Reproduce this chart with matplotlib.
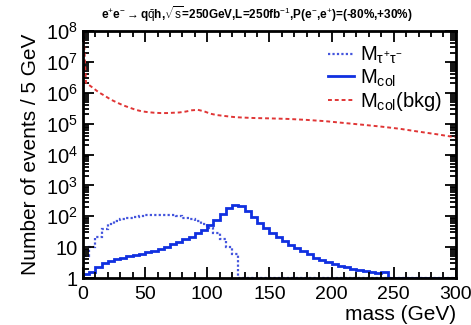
import numpy as np
import matplotlib
matplotlib.use("Agg")
import matplotlib.pyplot as plt
import matplotlib.transforms as mtransforms
from matplotlib.ticker import LogLocator, MultipleLocator, FixedLocator, FixedFormatter, NullFormatter

plt.rcParams['font.family'] = ['Liberation Sans', 'DejaVu Sans']
plt.rcParams['mathtext.fontset'] = 'custom'
plt.rcParams['mathtext.rm'] = 'Liberation Sans'
plt.rcParams['mathtext.it'] = 'Liberation Sans'
plt.rcParams['mathtext.bf'] = 'Liberation Sans:bold'

# 5 GeV bins from 0 to 300
edges = np.arange(0, 305, 5)

m_tautau = [5, 10, 22, 38, 55, 70, 80, 90, 98, 105,
            110, 112, 112, 110, 106, 100, 90, 80, 68, 56,
            42, 28, 18, 10, 6, 1, 1, 1, 1, 1,
            1, 1, 1, 1, 1, 1, 1, 1, 1, 1,
            1, 1, 1, 1, 1, 1, 1, 1, 1, 1,
            1, 1, 1, 1, 1, 1, 1, 1, 1, 1]

m_col = [1.3, 1.6, 2.3, 3.0, 3.5, 4.0, 4.5, 5.0, 5.6, 6.2,
         6.9, 7.7, 8.6, 9.8, 12.5, 15, 18, 22, 28, 37,
         52, 75, 115, 180, 235, 215, 150, 98, 61, 41,
         29, 21, 15.5, 12, 9.4, 7.5, 5.8, 4.5, 3.9, 3.4,
         2.9, 2.5, 2.3, 2.0, 1.8, 1.7, 1.6, 1.5, 1.6, 1,
         1, 1, 1, 1, 1, 1, 1, 1, 1, 1]

bkg_mass = [0.3, 2.5, 7.5, 12.5, 17.5, 22.5, 27.5, 32.5, 37.5, 42.5, 47.5,
            52.5, 57.5, 62.5, 67.5, 72.5, 77.5, 82.5, 87.5, 92.5, 97.5,
            102.5, 107.5, 112.5, 117.5, 122.5, 127.5, 137.5, 150, 165,
            180, 195, 210, 225, 240, 255, 270, 285, 300]
bkg_val = [1.5e8, 2.1e6, 1.5e6, 1.05e6, 8e5, 6e5, 4.8e5, 3.9e5, 3.3e5, 2.8e5, 2.5e5,
           2.35e5, 2.25e5, 2.2e5, 2.2e5, 2.25e5, 2.3e5, 2.45e5, 2.7e5, 2.8e5, 2.5e5,
           2.1e5, 1.9e5, 1.8e5, 1.7e5, 1.62e5, 1.58e5, 1.52e5, 1.48e5, 1.42e5,
           1.32e5, 1.2e5, 1.05e5, 9.2e4, 8e4, 6.8e4, 5.5e4, 4.5e4, 3.6e4]

fig = plt.figure(figsize=(4.71, 3.25), dpi=100)
ax = fig.add_axes([0.176, 0.1446, 0.792, 0.760])

ax.stairs(m_tautau, edges, color='#4455dd', lw=1.6, ls=(0, (1, 1)), label=r'M$_{\tau^{+}\tau^{-}}$')
ax.stairs(m_col, edges, color='#1030e0', lw=2.0, label=r'M$_{\mathrm{col}}$')
ax.plot(bkg_mass, bkg_val, color='#e03535', lw=1.4, ls=(0, (2, 1.5)), label=r'M$_{\mathrm{col}}$(bkg)')

ax.set_yscale('log')
ax.set_xlim(0, 300)
ax.set_ylim(1, 1e8)

ax.xaxis.set_major_locator(MultipleLocator(50))
ax.xaxis.set_minor_locator(MultipleLocator(10))
ax.yaxis.set_major_locator(FixedLocator([10.0**k for k in range(9)]))
ax.yaxis.set_major_formatter(FixedFormatter(['1', '10'] + [r'$10^{%d}$' % k for k in range(2, 9)]))
ax.yaxis.set_minor_locator(LogLocator(base=10, subs=np.arange(2, 10), numticks=20))
ax.yaxis.set_minor_formatter(NullFormatter())

ax.tick_params(which='both', direction='in', top=True, right=True, width=1.3)
ax.tick_params(which='major', length=8, labelsize=14.5)
ax.tick_params(axis='x', which='major', labelsize=14, pad=6)
ax.tick_params(which='minor', length=4)
for s in ax.spines.values():
    s.set_linewidth(2.0)

ax.set_ylabel('Number of events / 5 GeV', fontsize=15, labelpad=4)
ax.set_xlabel('mass (GeV)', fontsize=15, loc='right', labelpad=1)

fig.text(0.545, 0.955, r'e$^{+}$e$^{-}$$\rightarrow$q$\bar{\mathrm{q}}$h,$\sqrt{\mathrm{s}}$=250GeV,L=250fb$^{-1}$,P(e$^{-}$,e$^{+}$)=(-80%,+30%)',
         ha='center', va='center', fontsize=8.5, fontweight='bold')

leg = ax.legend(loc='upper right', bbox_to_anchor=(1.0, 1.0), frameon=False, fontsize=14.5,
                handlelength=1.3, handletextpad=0.3, labelspacing=0.05, borderaxespad=0.3)

# nudge the last x tick label so it stays inside the figure
fig.canvas.draw()
labels = ax.get_xticklabels()
shift = mtransforms.ScaledTranslation(-3 / 100, 0, fig.dpi_scale_trans)
labels[-1].set_transform(labels[-1].get_transform() + shift)

fig.savefig('out.png', dpi=100)
